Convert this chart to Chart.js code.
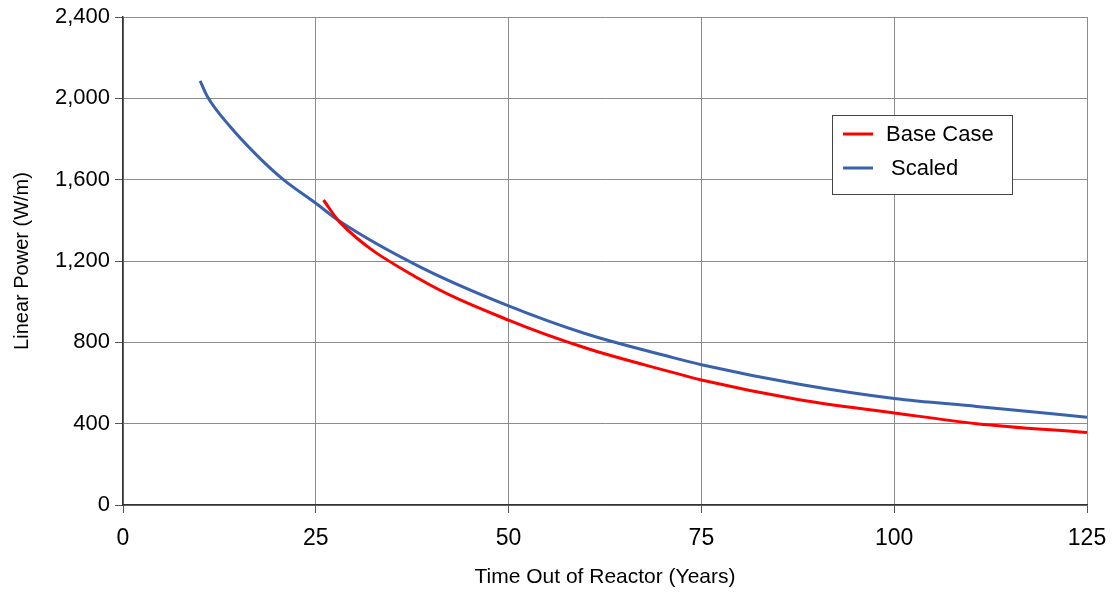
<!DOCTYPE html>
<html>
<head>
<meta charset="utf-8">
<script src="https://cdn.jsdelivr.net/npm/chart.js@4.4.1/dist/chart.umd.min.js"></script>
<style>
  html, body { margin: 0; padding: 0; background: #ffffff; }
  #wrap { width: 1115px; height: 594px; }
</style>
</head>
<body>
<div id="wrap"><canvas id="c" width="1115" height="594"></canvas></div>
<script>
// ---- data ----
const seriesNames = ['Base Case', 'Scaled'];
const baseYears  = [26, 28.1, 38.5, 50, 60, 70.9, 75, 87.7, 100, 110.7, 125];
const basePower  = [1500, 1391, 1110, 909, 772, 656, 615, 518, 453, 400, 356];
const scaledYears = [10, 11, 13.8, 17.3, 20.8, 25, 28.1, 38.5, 50, 60, 70.9, 75, 87.7, 100, 110.7, 125];
const scaledPower = [2086, 2005, 1865, 1722, 1600, 1484, 1395, 1171, 979, 842, 729, 690, 594, 524, 485, 432];
const xTicks = [0, 25, 50, 75, 100, 125];
const yTicks = [0, 400, 800, 1200, 1600, 2000, 2400];
const xTitle = 'Time Out of Reactor (Years)';
const yTitle = 'Linear Power (W/m)';

const toPts = (xs, ys) => xs.map((x, i) => ({ x: x, y: ys[i] }));

const FONT = "'Liberation Sans', Arial, sans-serif";
const RED = '#ff0000';
const BLUE = '#3a62ac';

const legendBox = {
  id: 'legendBox',
  afterDraw(chart) {
    const ctx = chart.ctx;
    const bx = 832, by = 115, bw = 180, bh = 79;
    ctx.save();
    ctx.fillStyle = '#ffffff';
    ctx.fillRect(bx, by, bw, bh);
    ctx.strokeStyle = '#444444';
    ctx.lineWidth = 1;
    ctx.strokeRect(bx + 0.5, by + 0.5, bw, bh);
    const rows = [{ y: 134, tx: 886 }, { y: 168, tx: 891 }];
    chart.data.datasets.forEach((ds, i) => {
      const r = rows[i];
      ctx.strokeStyle = ds.borderColor;
      ctx.lineWidth = 3;
      ctx.beginPath();
      ctx.moveTo(843, r.y);
      ctx.lineTo(873, r.y);
      ctx.stroke();
      ctx.fillStyle = '#000000';
      ctx.font = '22px ' + FONT;
      ctx.textBaseline = 'middle';
      ctx.textAlign = 'left';
      ctx.fillText(ds.label, r.tx, r.y + 1);
    });
    ctx.restore();
  }
};

new Chart(document.getElementById('c'), {
  type: 'line',
  data: {
    datasets: [
      {
        label: seriesNames[0],
        data: toPts(baseYears, basePower),
        borderColor: RED,
        backgroundColor: RED,
        borderWidth: 3,
        pointRadius: 0,
        cubicInterpolationMode: 'monotone',
        fill: false
      },
      {
        label: seriesNames[1],
        data: toPts(scaledYears, scaledPower),
        borderColor: BLUE,
        backgroundColor: BLUE,
        borderWidth: 3,
        pointRadius: 0,
        cubicInterpolationMode: 'monotone',
        fill: false
      }
    ]
  },
  options: {
    responsive: false,
    animation: false,
    devicePixelRatio: 1,
    layout: { padding: { top: 17, right: 28, left: 0, bottom: 0 } },
    plugins: {
      legend: { display: false },
      tooltip: { enabled: false }
    },
    scales: {
      x: {
        type: 'linear',
        min: xTicks[0],
        max: xTicks[xTicks.length - 1],
        afterBuildTicks: (s) => { s.ticks = xTicks.map(v => ({ value: v })); },
        afterFit: (s) => { s.height = 89; s.paddingLeft = 0; s.paddingRight = 0; },
        grid: { color: '#8c8c8c', lineWidth: 1, drawTicks: true, tickLength: 8, tickColor: '#555555' },
        border: { display: true, color: '#333333', width: 1.5 },
        ticks: { color: '#000000', font: { family: FONT, size: 23 }, padding: 12, maxRotation: 0 },
        title: { display: true, text: xTitle, color: '#000000', font: { family: FONT, size: 21 }, padding: { top: 0, bottom: 4 } }
      },
      y: {
        type: 'linear',
        min: yTicks[0],
        max: yTicks[yTicks.length - 1],
        afterBuildTicks: (s) => { s.ticks = yTicks.map(v => ({ value: v })); },
        afterFit: (s) => { s.width = 123; s.paddingTop = 0; s.paddingBottom = 0; },
        grid: { color: '#8c8c8c', lineWidth: 1, drawTicks: true, tickLength: 8, tickColor: '#555555' },
        border: { display: true, color: '#333333', width: 1.5 },
        ticks: {
          color: '#000000',
          font: { family: FONT, size: 22 },
          padding: 5,
          callback: (v) => Number(v).toLocaleString('en-US')
        },
        title: { display: true, text: yTitle, color: '#000000', font: { family: FONT, size: 20 }, padding: { top: 10, bottom: 0 } }
      }
    }
  },
  plugins: [legendBox]
});
</script>
</body>
</html>
